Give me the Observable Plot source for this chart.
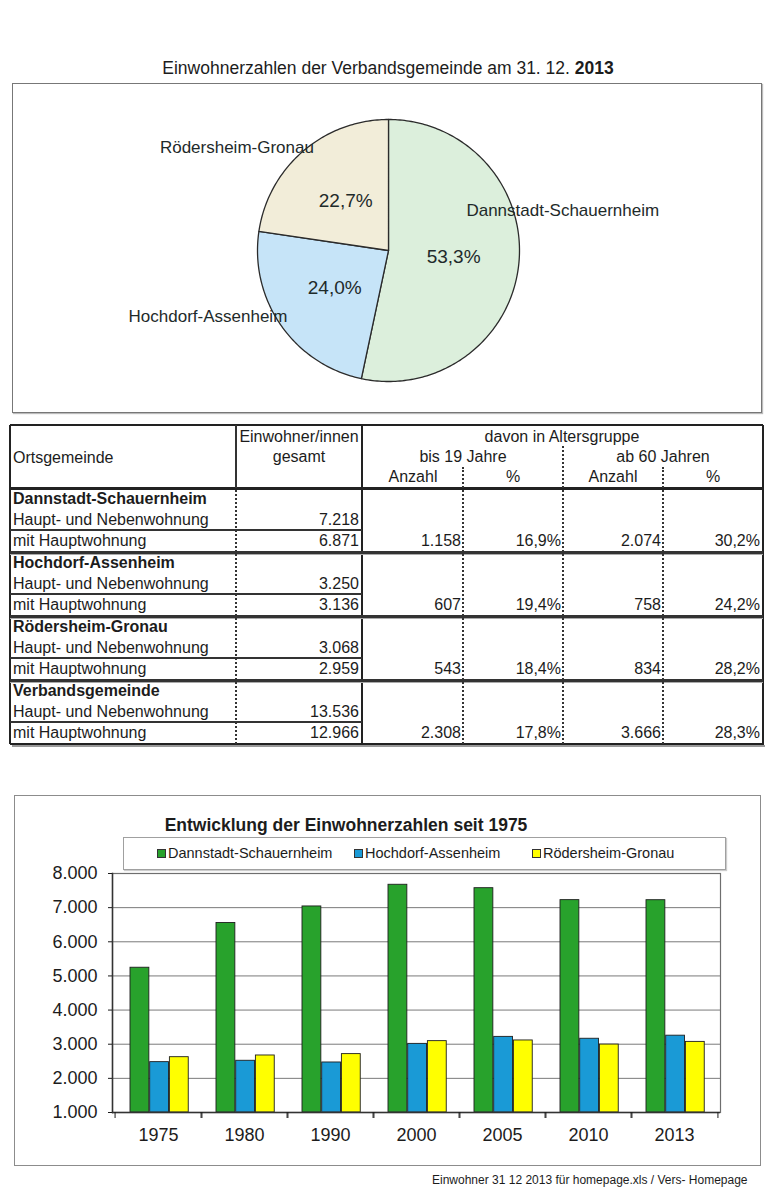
<!DOCTYPE html>
<html>
<head>
<meta charset="utf-8">
<script src="https://cdn.jsdelivr.net/npm/d3@7"></script>
<script src="https://cdn.jsdelivr.net/npm/@observablehq/plot@0.6"></script>
<style>
  body { margin: 0; background: #fff; font-family: "Liberation Sans", Arial, sans-serif; color: #1c1c1c; }
  #page { position: relative; width: 780px; height: 1198px; overflow: hidden; }
  .abs { position: absolute; }
  .t { position: absolute; white-space: nowrap; line-height: 20px; }
  #pieBox { left: 12px; top: 83px; width: 748px; height: 328px; border: 1px solid #777; box-shadow: 1px 1px 1px #bbb; }
  #barBox { left: 14px; top: 795px; width: 745px; height: 369px; border: 1.5px solid #8c8c8c; }
  #legend { left: 123px; top: 837px; width: 601px; height: 31px; border: 1px solid #a0a0a0; box-shadow: 1px 1px 1px #ccc; background: #fff; z-index: 2; }
  .sw { position: absolute; width: 7px; height: 7px; border: 1px solid #333; }
  .hline { position: absolute; }
  .vdot { position: absolute; width: 0; border-left: 2px dotted #333; }
</style>
</head>
<body>
<div id="page">
  <div id="pieBox" class="abs"></div>
  <div id="barBox" class="abs"></div>
  <div id="legend" class="abs"></div>
</div>
<script>
// ---------- data ----------
const orte = ["Dannstadt-Schauernheim", "Hochdorf-Assenheim", "Rödersheim-Gronau", "Verbandsgemeinde"];
const hauptNeben = [7218, 3250, 3068, 13536];
const hauptwohnung = [6871, 3136, 2959, 12966];
const bis19Anzahl = [1158, 607, 543, 2308];
const bis19Prozent = [16.9, 19.4, 18.4, 17.8];
const ab60Anzahl = [2074, 758, 834, 3666];
const ab60Prozent = [30.2, 24.2, 28.2, 28.3];

const pieFarben = ["#dcefdc", "#c6e4f8", "#f2edd9"];

const jahre = ["1975", "1980", "1990", "2000", "2005", "2010", "2013"];
const serien = ["Dannstadt-Schauernheim", "Hochdorf-Assenheim", "Rödersheim-Gronau"];
const dannstadt = [5240, 6550, 7035, 7670, 7570, 7220, 7218];
const hochdorf = [2475, 2515, 2465, 3010, 3215, 3160, 3250];
const roedersheim = [2620, 2670, 2710, 3090, 3110, 2990, 3068];
const yTicks = [1000, 2000, 3000, 4000, 5000, 6000, 7000, 8000];
const barFarben = ["#28a22c", "#1a9ad6", "#ffff00"];

// ---------- helpers ----------
const de = d3.formatLocale({decimal: ",", thousands: ".", grouping: [3], currency: ["", "€"]});
const fmtInt = de.format(",d");
const fmtPct = v => de.format(".1f")(v) + "%";
const page = document.getElementById("page");
const FONT = '"Liberation Sans", Arial, sans-serif';

function put(txt, x, y, {anchor = "start", bold = false, size = 16, parent = page} = {}) {
  const d = document.createElement("div");
  d.className = "t";
  d.textContent = txt;
  d.style.fontSize = size + "px";
  d.style.top = (y - 10) + "px";
  if (bold) d.style.fontWeight = "bold";
  if (anchor === "start") d.style.left = x + "px";
  else if (anchor === "end") d.style.right = (780 - x) + "px";
  else { d.style.left = (x - 250) + "px"; d.style.width = "500px"; d.style.textAlign = "center"; }
  parent.appendChild(d);
  return d;
}
function hline(x1, x2, y, w, color) {
  const d = document.createElement("div");
  d.className = "hline";
  Object.assign(d.style, {left: x1 + "px", width: (x2 - x1) + "px", top: (y - w / 2) + "px", height: w + "px", background: color});
  page.appendChild(d);
}
function vline(x, y1, y2, w, color) {
  const d = document.createElement("div");
  d.className = "hline";
  Object.assign(d.style, {left: (x - w / 2) + "px", width: w + "px", top: y1 + "px", height: (y2 - y1) + "px", background: color});
  page.appendChild(d);
}
function vdot(x, y1, y2) {
  const d = document.createElement("div");
  d.className = "vdot";
  Object.assign(d.style, {left: (x - 1) + "px", top: y1 + "px", height: (y2 - y1) + "px"});
  page.appendChild(d);
}

// ---------- pie title ----------
const pt = put("Einwohnerzahlen der Verbandsgemeinde am 31. 12. ", 388, 68, {anchor: "middle", size: 17.5});
const b = document.createElement("b"); b.textContent = "2013"; pt.appendChild(b);

// ---------- pie chart ----------
const pieNames = orte.slice(0, 3);
const pieVals = hauptNeben.slice(0, 3);
const total = d3.sum(pieVals);
const arcs = d3.pie().sort(null).startAngle(0).endAngle(2 * Math.PI)(pieVals);
const pieTbl = arcs.map((a, i) => ({name: pieNames[i], value: a.value, start: a.startAngle, end: a.endAngle, mid: (a.startAngle + a.endAngle) / 2}));
const piePts = pieTbl.flatMap(s => {
  const n = Math.max(2, Math.ceil((s.end - s.start) / (Math.PI / 180)));
  const pts = [{name: s.name, x: 0, y: 0}];
  for (let k = 0; k <= n; k++) {
    const a = s.start + (s.end - s.start) * k / n;
    pts.push({name: s.name, x: Math.sin(a), y: Math.cos(a)});
  }
  pts.push({name: s.name, x: 0, y: 0});
  return pts;
});
const pctLabels = pieTbl.map(s => ({x: 0.5 * Math.sin(s.mid), y: 0.5 * Math.cos(s.mid), text: fmtPct(s.value / total * 100)}));
const nameLabels = pieTbl.map(s => ({name: s.name, x: Math.sin(s.mid), y: Math.cos(s.mid)}));

const PW = 748, PH = 328, R = 131, CX = 375, CY = 166;
const pie = Plot.plot({
  width: PW, height: PH, margin: 0,
  style: {fontFamily: FONT, background: "transparent", color: "#1c1c1c", overflow: "visible"},
  x: {domain: [-CX / R, (PW - CX) / R], range: [0, PW], axis: null},
  y: {domain: [-(PH - CY) / R, CY / R], range: [PH, 0], axis: null},
  color: {domain: pieNames, range: pieFarben},
  marks: [
    Plot.line(piePts, {x: "x", y: "y", z: "name", fill: "name", stroke: "#2b2b2b", strokeWidth: 1.3, strokeLinejoin: "round"}),
    Plot.text(pctLabels, {x: "x", y: "y", text: "text", fontSize: 19, fill: "#1e2a2a"}),
    Plot.text(nameLabels.filter(d => d.name === pieNames[0]), {x: "x", y: "y", text: "name", fontSize: 17, dx: 44, dy: -54, fill: "#1e2a2a"}),
    Plot.text(nameLabels.filter(d => d.name === pieNames[1]), {x: "x", y: "y", text: "name", fontSize: 17, dx: -73, dy: -9, fill: "#1e2a2a"}),
    Plot.text(nameLabels.filter(d => d.name === pieNames[2]), {x: "x", y: "y", text: "name", fontSize: 17, dx: -66, dy: -4, fill: "#1e2a2a"})
  ]
});
pie.style.position = "absolute"; pie.style.left = "0px"; pie.style.top = "0px";
document.getElementById("pieBox").appendChild(pie);

// ---------- table ----------
const T = {x0: 10, x1: 763, y0: 425, yh: 488, y1: 744};
const colX = [10, 236, 362, 463, 563, 663, 763];
hline(T.x0, T.x1, T.y0, 2, "#222");
hline(T.x0, T.x1, T.y1, 2, "#222");
vline(T.x0, T.y0, T.y1, 2, "#222");
vline(T.x1, T.y0, T.y1 + 1, 2, "#222");
hline(T.x0 + 2, T.x1 + 2, T.y1 + 2, 1.5, "#999");
hline(T.x0, T.x1, T.yh, 3, "#222");
vline(colX[1], T.y0, T.yh, 1.2, "#333");
vline(colX[2], T.y0, T.y1, 2, "#222");
vdot(colX[4], 446, T.yh);
vdot(colX[3], 467, T.yh);
vdot(colX[5], 467, T.yh);
put("Ortsgemeinde", 13, 458);
put("Einwohner/innen", 299, 437, {anchor: "middle"});
put("gesamt", 299, 457, {anchor: "middle"});
put("davon in Altersgruppe", 562, 437, {anchor: "middle"});
put("bis 19 Jahre", 463, 457, {anchor: "middle"});
put("ab 60 Jahren", 663, 457, {anchor: "middle"});
put("Anzahl", 413, 477, {anchor: "middle"});
put("%", 513, 477, {anchor: "middle"});
put("Anzahl", 613, 477, {anchor: "middle"});
put("%", 713, 477, {anchor: "middle"});
const gH = 64;
orte.forEach((name, g) => {
  const top = T.yh + g * gH;
  put(name, 13, top + 11, {bold: true});
  put("Haupt- und Nebenwohnung", 13, top + 32);
  put("mit Hauptwohnung", 13, top + 53);
  put(fmtInt(hauptNeben[g]), 359, top + 32, {anchor: "end"});
  put(fmtInt(hauptwohnung[g]), 359, top + 53, {anchor: "end"});
  put(fmtInt(bis19Anzahl[g]), 461, top + 53, {anchor: "end"});
  put(fmtPct(bis19Prozent[g]), 561, top + 53, {anchor: "end"});
  put(fmtInt(ab60Anzahl[g]), 661, top + 53, {anchor: "end"});
  put(fmtPct(ab60Prozent[g]), 760, top + 53, {anchor: "end"});
  hline(T.x0, colX[2], top + 42, 1.5, "#333");
  if (g > 0) { hline(T.x0, T.x1, top, 3, "#333"); hline(T.x0, T.x1, top + 2, 1, "#aaa"); }
});
vdot(colX[1], T.yh + 2, T.y1);
vdot(colX[3], T.yh + 2, T.y1);
vdot(colX[4], T.yh + 2, T.y1);
vdot(colX[5], T.yh + 2, T.y1);

// ---------- bar chart ----------
put("Entwicklung der Einwohnerzahlen seit 1975", 346, 825, {anchor: "middle", bold: true, size: 17.5});
const legend = document.getElementById("legend");
const legX = [33, 230, 408];
serien.forEach((s, i) => {
  const sw = document.createElement("div");
  sw.className = "sw";
  Object.assign(sw.style, {left: legX[i] + "px", top: "11px", background: barFarben[i]});
  legend.appendChild(sw);
  const t = document.createElement("div");
  t.className = "t";
  t.textContent = s;
  Object.assign(t.style, {left: (legX[i] + 11) + "px", top: "5px", fontSize: "14.5px"});
  legend.appendChild(t);
});

const barData = jahre.flatMap((j, i) => [
  {jahr: j, serie: serien[0], wert: dannstadt[i]},
  {jahr: j, serie: serien[1], wert: hochdorf[i]},
  {jahr: j, serie: serien[2], wert: roedersheim[i]}
]);
const BW = 780, BH = 300, mL = 112, mR = 60, mT = 13, mB = 48;
const step = (BW - mL - mR) / jahre.length;
const lead = 15, bw = 19.7;
const bars = Plot.plot({
  width: BW, height: BH, marginLeft: mL, marginRight: mR, marginTop: mT, marginBottom: mB,
  style: {fontFamily: FONT, fontSize: "18px", background: "transparent", color: "#1c1c1c"},
  x: {domain: jahre, padding: 0, axis: null},
  y: {domain: [1000, 8000], axis: null},
  color: {domain: serien, range: barFarben},
  marks: [
    Plot.gridY(yTicks.slice(1, -1), {stroke: "#7a7a7a", strokeOpacity: 1, strokeWidth: 1}),
    ...serien.map((s, k) => Plot.barY(barData.filter(d => d.serie === s), {
      x: "jahr", y1: 1000, y2: "wert", fill: "serie", stroke: "#1e1e1e", strokeWidth: 0.9,
      insetLeft: lead + k * bw, insetRight: step - lead - (k + 1) * bw
    })),
    Plot.frame({stroke: "#6e6e6e", strokeWidth: 1.2}),
    Plot.frame({anchor: "left", stroke: "#333", strokeWidth: 1.5}),
    Plot.ruleY([1000], {stroke: "#333", strokeWidth: 1.5}),
    Plot.axisY({ticks: yTicks, tickFormat: fmtInt, tickSize: 4, tickPadding: 11, fontSize: 18, label: null}),
    Plot.axisX({tickSize: 6, tickFormat: () => "", dx: -step / 2, label: null}),
    Plot.axisX({tickSize: 6, tickFormat: () => "", dx: step / 2, label: null}),
    Plot.axisX({tickSize: 0, tickPadding: 16, fontSize: 18, label: null})
  ]
});
bars.style.position = "absolute"; bars.style.left = "0px"; bars.style.top = "860px";
page.appendChild(bars);

// ---------- footer ----------
put("Einwohner 31 12 2013 für homepage.xls / Vers- Homepage", 432, 1180, {size: 12});
</script>
</body>
</html>
